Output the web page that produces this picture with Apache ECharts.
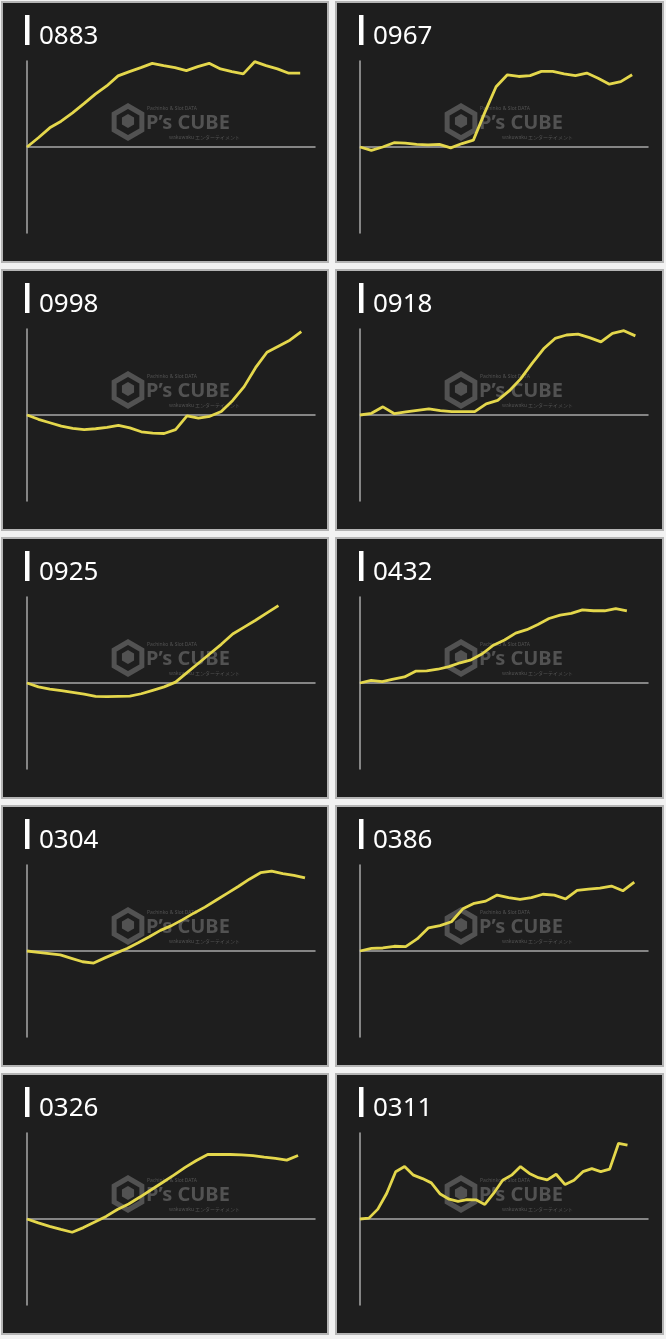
<!DOCTYPE html>
<html>
<head>
<meta charset="utf-8">
<script src="https://cdn.jsdelivr.net/npm/echarts@6/dist/echarts.min.js"></script>
<style>
html,body{margin:0;padding:0;background:#f2f2f2;}
#c{width:666px;height:1339px;}
</style>
</head>
<body>
<div id="c"></div>
<script>
// ---- data (values relative to zero line, scale -100..100) ----
const titles = ['0883','0967','0998','0918','0925','0432','0304','0386','0326','0311'];
const s0883 = [0,10.8,22.3,30,39.6,50.4,61.5,71,82.7,87.7,92.3,97.3,94.6,92.3,88.8,93.5,97.3,90.8,87.7,85,99.2,94.6,90.8,85.8,85.8];
const s0967 = [0,-4,0,5,4.5,3,2.5,3,-1,4,8,40,70,84,82,83,88,88,85,83,86,80,73,76,84];
const s0998 = [0,-5,-9,-13,-15.5,-17,-16,-14.5,-12,-15,-19.5,-21,-21.5,-17,-1,-3.5,-1.5,4,17,33,55,73,80,87,97];
const s0918 = [0,2,9.5,1.5,3.5,5.5,7,5,4,4,4,13,17,28,42,60,77,89,93,94,90,85,95,98,92];
const s0925 = [0,-4.5,-7,-9,-11,-13,-15.5,-15.8,-15.5,-15.2,-12.5,-8.5,-4.5,1,12,23,34,45,57,65,73,81.5,90];
const s0432 = [0,3,1.5,4.5,7,13.7,14,16,19,23.5,27,34,44,50,58,62,68,75,79,81,85,84,84,86.5,84];
const s0304 = [0,-1.5,-3,-4.6,-8.5,-12.5,-14,-8,-2.5,3,9.5,16.5,24,29.5,36.5,44,51,59,67,75,83.5,91,93,90,88,85];
const s0386 = [0,3,3.5,5.5,5,14,27,29.5,34,49,55.5,58,65,62,60,62,66,65,60.5,70.5,72,73,75.5,70,80];
const s0326 = [0,-4.5,-8.5,-12,-15.4,-10,-3.5,3,11,17.5,25.5,34,42.5,51,60,68,75,75,75,74.5,73.8,72,70.5,68.5,73.8];
const s0311 = [0,1,11.5,30,55,61,51,47,42,29,23,20.5,22.5,22.3,17,30,45,51,61,53,48,45.5,52,40,45,55,58.5,55,58,88,86];
const seriesValues = [s0883,s0967,s0998,s0918,s0925,s0432,s0304,s0386,s0326,s0311];
// x-axis extent (in point indices) of each panel
const xMax = [25.3,25.4,25.2,25.1,25.2,25.9,25.9,25.2,25.5,32.3];

// ---- layout ----
const panelX = [2, 336], panelW = [326, 327], panelY0 = 2, pitch = 268, panelH = 260;
const gridX = [27, 360], gridTop0 = 61, gridW = 288, gridH = 172;
const LINE = '#e4d74c', AXIS = '#a8a8a8', WM = '#525252';

const chart = echarts.init(document.getElementById('c'), null, {renderer:'canvas'});
const grids = [], xAxes = [], yAxes = [], series = [], graphics = [];

titles.forEach((t, k) => {
  const col = k % 2, row = Math.floor(k / 2);
  const px = panelX[col], py = panelY0 + row * pitch;
  const gx = gridX[col], gy = gridTop0 + row * pitch;
  grids.push({left: gx, top: gy, width: gridW, height: gridH});
  xAxes.push({type:'value', gridIndex:k, min:0, max:xMax[k],
    axisLine:{show:true, onZero:true, lineStyle:{color:AXIS, width:1.5}},
    axisTick:{show:false}, axisLabel:{show:false}, splitLine:{show:false}});
  yAxes.push({type:'value', gridIndex:k, min:-100, max:100,
    axisLine:{show:true, lineStyle:{color:AXIS, width:1.5}},
    axisTick:{show:false}, axisLabel:{show:false}, splitLine:{show:false}});
  series.push({type:'line', xAxisIndex:k, yAxisIndex:k, showSymbol:false, silent:true,
    data: seriesValues[k].map((v, i) => [i, v]),
    lineStyle:{color:LINE, width:2.8}, z:5});

  // panel background + border
  graphics.push({type:'rect', z:-20, silent:true,
    shape:{x:px, y:py, width:panelW[col], height:panelH},
    style:{fill:'#1e1e1e', stroke:'#b4b4b4', lineWidth:2}});
  // title bar + text
  graphics.push({type:'rect', z:10, silent:true,
    shape:{x:px + 23, y:py + 13, width:4.5, height:30},
    style:{fill:'#ffffff'}});
  graphics.push({type:'text', z:10, silent:true, x:px + 37, y:py + 35,
    style:{text:t, fill:'#ffffff', font:'26px "Noto Sans", "Open Sans", sans-serif',
      verticalAlign:'middle', align:'left'}});

  // watermark
  const cx = gx + 101, cy = gy + 61;
  const hex = [];
  for (let a = 0; a < 6; a++) {
    const ang = Math.PI / 6 + a * Math.PI / 3;
    hex.push([cx + 16 * Math.cos(ang), cy + 16 * Math.sin(ang)]);
  }
  graphics.push({type:'polygon', z:-5, silent:true, shape:{points:hex},
    style:{fill:'none', stroke:WM, lineWidth:5}});
  const hex2 = [];
  for (let a = 0; a < 6; a++) {
    const ang = Math.PI / 6 + a * Math.PI / 3;
    hex2.push([cx + 7 * Math.cos(ang), cy - 1 + 7 * Math.sin(ang)]);
  }
  graphics.push({type:'polygon', z:-5, silent:true, shape:{points:hex2},
    style:{fill:WM}});
  graphics.push({type:'text', z:-5, silent:true, x:gx + 119, y:gy + 62,
    style:{text:'P\u2019s CUBE', fill:WM, font:'bold 20px "Noto Sans", sans-serif', verticalAlign:'middle'}});
  graphics.push({type:'text', z:-5, silent:true, x:gx + 120, y:gy + 48,
    style:{text:'Pachinko & Slot DATA', fill:WM, font:'5px "Noto Sans", sans-serif', verticalAlign:'middle'}});
  graphics.push({type:'text', z:-5, silent:true, x:gx + 142, y:gy + 76,
    style:{text:'wakuwaku エンターテイメント', fill:WM, font:'5px "Noto Sans CJK JP", sans-serif', verticalAlign:'middle'}});
});

chart.setOption({
  backgroundColor: '#f2f2f2',
  animation: false,
  grid: grids,
  xAxis: xAxes,
  yAxis: yAxes,
  series: series,
  graphic: {elements: graphics}
});
</script>
</body>
</html>
